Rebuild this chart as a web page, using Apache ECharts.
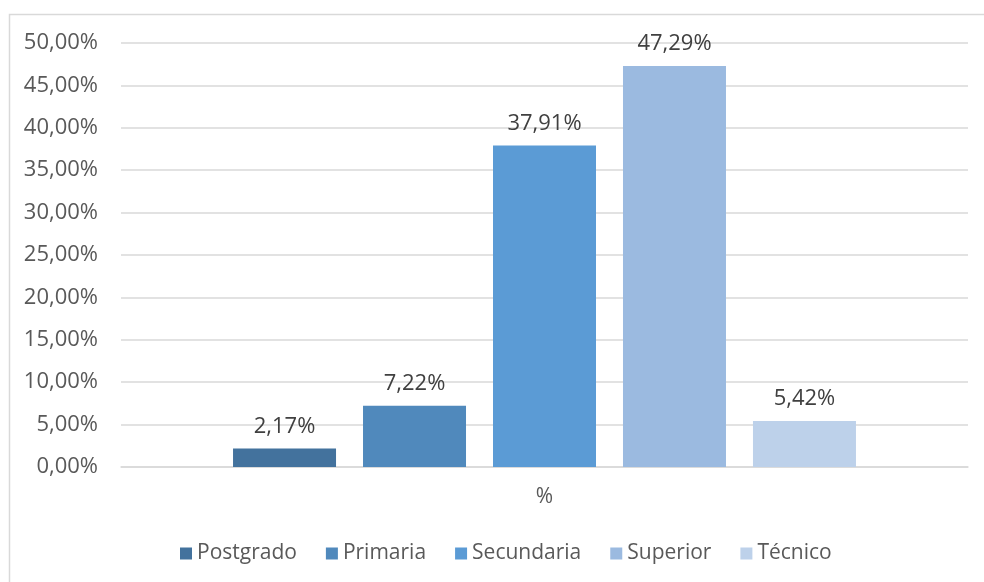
<!DOCTYPE html>
<html>
<head>
<meta charset="utf-8">
<script src="https://cdn.jsdelivr.net/npm/echarts@6/dist/echarts.min.js"></script>
<style>
  html, body { margin: 0; padding: 0; background: #fff; }
  #chart { width: 984px; height: 582px; }
</style>
</head>
<body>
<div id="chart"></div>
<script>
// datos del grafico (nivel educativo, %)
const categories = ['%']
const levels = ['Postgrado', 'Primaria', 'Secundaria', 'Superior', 'Técnico']
const percents = [2.17, 7.22, 37.91, 47.29, 5.42]
const yTicks = { min: 0, max: 50, step: 5 }

const palette = ['#43729D', '#5089BC', '#5B9BD5', '#9BBAE0', '#BDD1EA']
const textColor = '#595959'
const fontFamily = '"Open Sans", "DejaVu Sans", sans-serif'

function pct(v) {
  return v.toFixed(2).replace('.', ',') + '%'
}

const chart = echarts.init(document.getElementById('chart'), null, { renderer: 'canvas' })
chart.setOption({
  animation: false,
  textStyle: { fontFamily: fontFamily },
  graphic: [{
    type: 'rect',
    shape: { x: 9.5, y: 14.5, width: 1100, height: 700 },
    style: { fill: 'none', stroke: '#D9D9D9', lineWidth: 1.5 },
    silent: true
  }],
  grid: { left: 121, right: 16, top: 43, bottom: 115 },
  legend: {
    left: 175,
    top: 538,
    itemWidth: 12,
    itemHeight: 12,
    itemGap: 29,
    icon: 'rect',
    textStyle: { color: textColor, fontSize: 21, fontFamily: fontFamily },
    data: levels
  },
  xAxis: {
    type: 'category',
    data: categories,
    axisTick: { show: false },
    axisLine: { lineStyle: { color: '#D9D9D9', width: 1.5 } },
    axisLabel: { color: textColor, fontSize: 21, margin: 20 }
  },
  yAxis: {
    type: 'value',
    min: yTicks.min,
    max: yTicks.max,
    interval: yTicks.step,
    axisLine: { show: false },
    axisTick: { show: false },
    splitLine: { lineStyle: { color: '#D9D9D9', width: 1.5 } },
    axisLabel: {
      color: textColor,
      fontSize: 22,
      margin: 23,
      formatter: function(v) { return pct(v) }
    }
  },
  series: levels.map(function(name, i) {
    return {
      name: name,
      type: 'bar',
      data: [percents[i]],
      barWidth: 103,
      barGap: '26.2%',
      itemStyle: { color: palette[i] },
      emphasis: { disabled: true },
      label: {
        show: true,
        position: 'top',
        distance: 11,
        color: '#404040',
        fontSize: 22,
        formatter: function(p) { return pct(p.value) }
      }
    }
  })
})
</script>
</body>
</html>
